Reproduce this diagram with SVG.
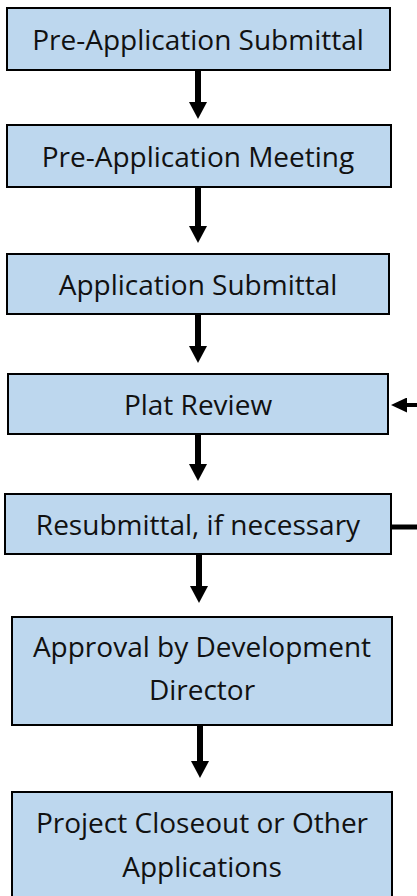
<svg xmlns="http://www.w3.org/2000/svg" width="417" height="896" viewBox="0 0 417 896">
  <style>
    .box { fill: #BDD7EE; stroke: #000; stroke-width: 2; }
    .lbl { font-family: "Open Sans", "Liberation Sans", sans-serif; font-size: 28px; fill: #111; text-anchor: middle; font-variant-ligatures: none; }
    .flow { stroke: #000; stroke-width: 6; fill: none; }
    .loop { stroke: #000; fill: none; }
  </style>
  <defs>
    <marker id="head" markerUnits="userSpaceOnUse" markerWidth="18" markerHeight="18" viewBox="0 0 17 18" refX="0" refY="9" orient="auto">
      <path d="M0,0 L17,9 L0,18 Z" fill="#000"/>
    </marker>
    <marker id="headSm" markerUnits="userSpaceOnUse" markerWidth="16" markerHeight="15" viewBox="0 0 16 15" refX="0" refY="7.5" orient="auto">
      <path d="M0,0 L16,7.5 L0,15 Z" fill="#000"/>
    </marker>
  </defs>

  <!-- connectors -->
  <g id="connectors">
    <line class="flow" x1="198" y1="71" x2="198" y2="102" marker-end="url(#head)"/>
    <line class="flow" x1="198" y1="188" x2="198" y2="226" marker-end="url(#head)"/>
    <line class="flow" x1="198" y1="315" x2="198" y2="346" marker-end="url(#head)"/>
    <line class="flow" x1="198" y1="435" x2="198" y2="464" marker-end="url(#head)"/>
    <line class="flow" x1="199" y1="555" x2="199" y2="586" marker-end="url(#head)"/>
    <line class="flow" x1="200" y1="726" x2="200" y2="761" marker-end="url(#head)"/>
    <!-- return path from resubmittal back to plat review -->
    <line class="loop" stroke-width="4" x1="418" y1="405" x2="407" y2="405" marker-end="url(#headSm)"/>
    <line class="loop" stroke-width="5" x1="392" y1="527" x2="418" y2="527"/>
  </g>

  <g id="pre-app-submittal">
    <rect class="box" x="7" y="8" width="383" height="62"/>
    <text class="lbl" x="198" y="50">Pre-Application Submittal</text>
  </g>
  <g id="pre-app-meeting">
    <rect class="box" x="7" y="125" width="384" height="62"/>
    <text class="lbl" x="198" y="167">Pre-Application Meeting</text>
  </g>
  <g id="app-submittal">
    <rect class="box" x="7" y="254" width="382" height="60"/>
    <text class="lbl" x="198" y="295">Application Submittal</text>
  </g>
  <g id="plat-review">
    <rect class="box" x="8" y="374" width="380" height="60"/>
    <text class="lbl" x="198" y="415">Plat Review</text>
  </g>
  <g id="resubmittal">
    <rect class="box" x="5" y="494" width="386" height="60"/>
    <text class="lbl" x="198" y="535">Resubmittal, if necessary</text>
  </g>
  <g id="approval">
    <rect class="box" x="12" y="617" width="380" height="108"/>
    <text class="lbl" x="202" y="657">Approval by Development</text>
    <text class="lbl" x="202" y="700">Director</text>
  </g>
  <g id="closeout">
    <rect class="box" x="12" y="792" width="380" height="120"/>
    <text class="lbl" x="202" y="833">Project Closeout or Other</text>
    <text class="lbl" x="202" y="877">Applications</text>
  </g>
</svg>
